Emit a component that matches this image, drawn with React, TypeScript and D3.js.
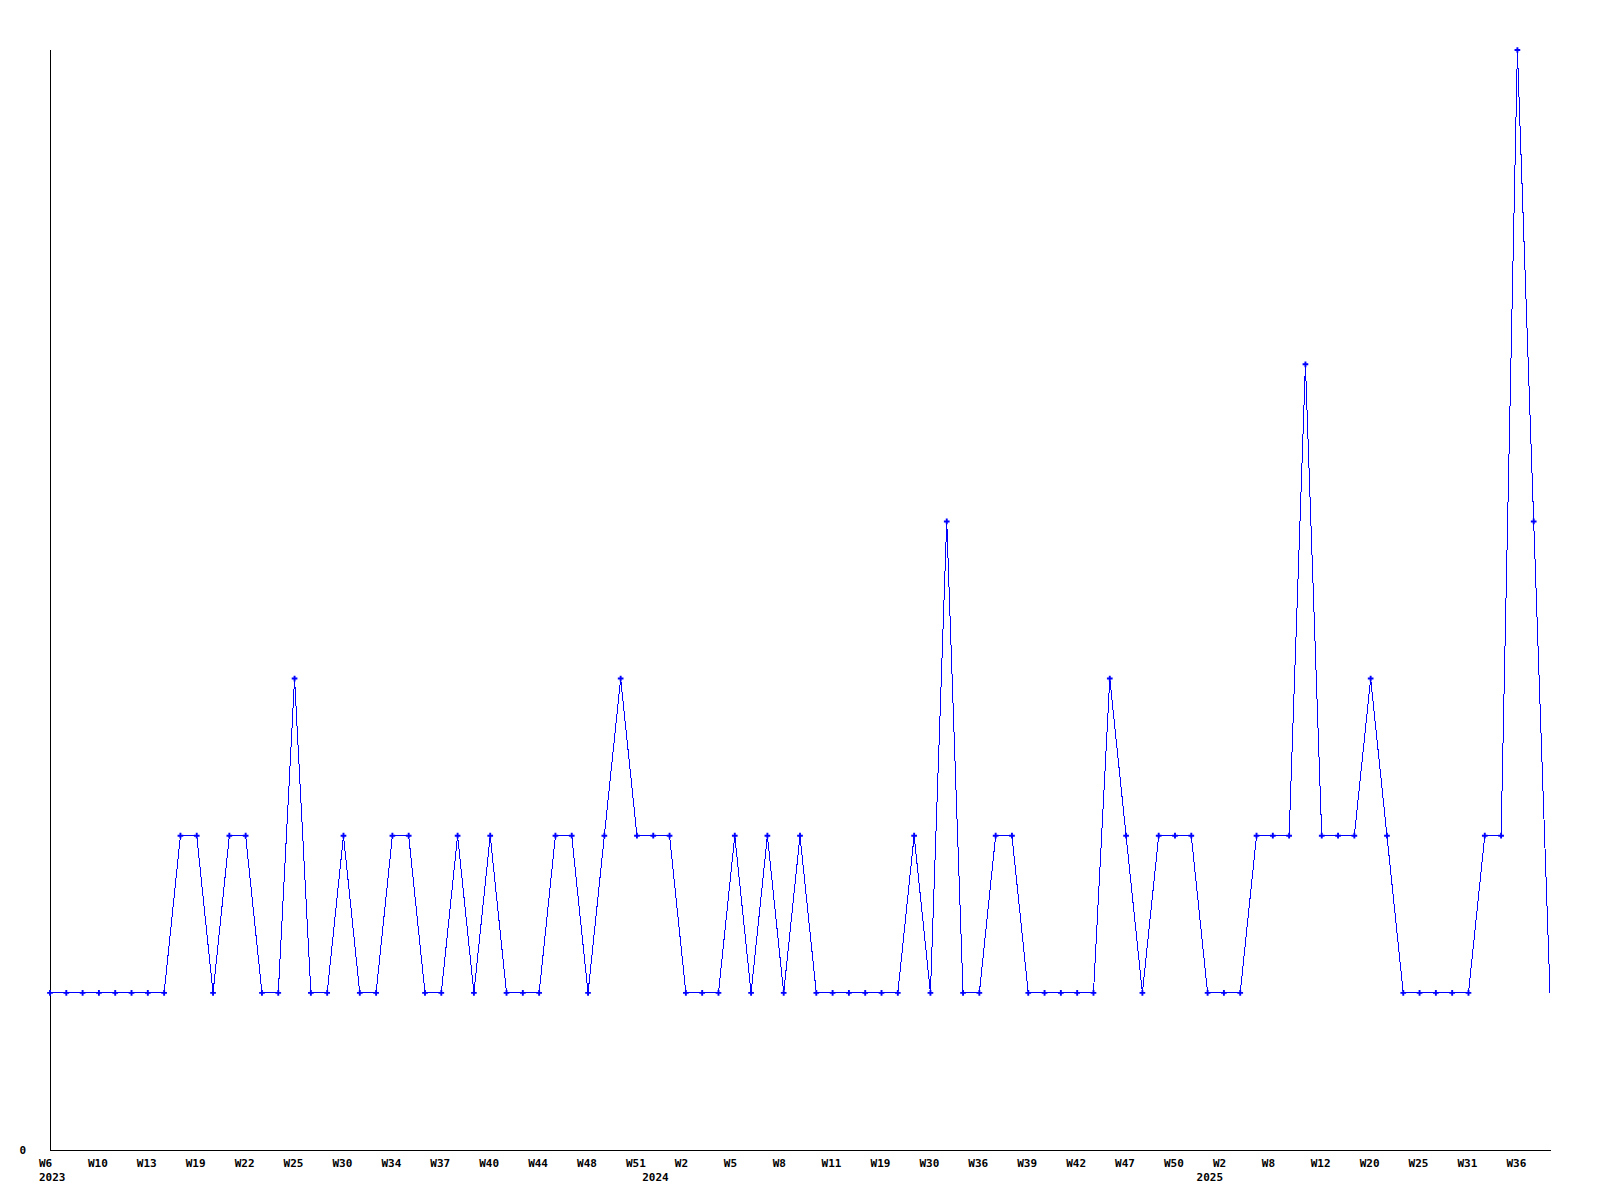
import { useEffect, useRef } from "react";
import * as d3 from "d3";

// weekly counts, one per category (oldest first)
const counts = [
  1, 1, 1, 1, 1, 1, 1, 1, 2, 2, 1, 2, 2, 1, 1, 3, 1, 1, 2, 1,
  1, 2, 2, 1, 1, 2, 1, 2, 1, 1, 1, 2, 2, 1, 2, 3, 2, 2, 2, 1,
  1, 1, 2, 1, 2, 1, 2, 1, 1, 1, 1, 1, 1, 2, 1, 4, 1, 1, 2, 2,
  1, 1, 1, 1, 1, 3, 2, 1, 2, 2, 2, 1, 1, 1, 2, 2, 2, 5, 2, 2,
  2, 3, 2, 1, 1, 1, 1, 1, 2, 2, 7, 4, 1,
];

// tick labels, shown on every 3rd category
const weekLabels = [
  "W6", "W10", "W13", "W19", "W22", "W25", "W30", "W34", "W37", "W40",
  "W44", "W48", "W51", "W2", "W5", "W8", "W11", "W19", "W30", "W36",
  "W39", "W42", "W47", "W50", "W2", "W8", "W12", "W20", "W25", "W31",
  "W36",
];
const tickStep = 3;

// year labels and the category where each one starts
const years = ["2023", "2024", "2025"];
const yearStart = [0, 37, 71];

const yMax = 7;

export default function App() {
  const ref = useRef<SVGSVGElement | null>(null);
  const width = 1600;
  const height = 1200;

  useEffect(() => {
    if (!ref.current) return;
    const svg = d3.select(ref.current);
    svg.selectAll("*").remove();

    const left = 50;
    const right = 1550;
    const top = 50;
    const bottom = 1150;

    const idx = counts.map((_, i) => i);
    const x = d3.scalePoint<number>().domain(idx).range([left, right]);
    const y = d3.scaleLinear().domain([0, yMax]).range([bottom, top]);

    // axes
    const axes = svg.append("g").attr("shape-rendering", "crispEdges").attr("stroke", "black");
    axes.append("line").attr("x1", left).attr("x2", left).attr("y1", 50).attr("y2", bottom);
    axes.append("line").attr("x1", left).attr("x2", right + 1).attr("y1", bottom).attr("y2", bottom);

    const font = "'DejaVu Sans Mono', monospace";

    svg.append("text")
      .attr("x", 26)
      .attr("y", bottom + 4)
      .attr("text-anchor", "end")
      .attr("font-family", font)
      .attr("font-weight", "bold")
      .attr("font-size", 11)
      .text(d3.format("d")(y.domain()[0]));

    // week tick labels
    svg.append("g")
      .attr("font-family", font)
      .attr("font-weight", "bold")
      .attr("font-size", 11)
      .selectAll("text")
      .data(weekLabels)
      .join("text")
      .attr("x", (_, i) => (x(i * tickStep) ?? 0) - 11)
      .attr("y", bottom + 17)
      .text((d) => d);

    // year labels
    svg.append("g")
      .attr("font-family", font)
      .attr("font-weight", "bold")
      .attr("font-size", 11)
      .selectAll("text")
      .data(years)
      .join("text")
      .attr("x", (_, i) => (x(yearStart[i]) ?? 0) - 11)
      .attr("y", bottom + 31)
      .text((d) => d);

    // series line
    const line = d3
      .line<number>()
      .x((_, i) => x(i) ?? 0)
      .y((d) => y(d));

    svg.append("path")
      .datum(counts)
      .attr("fill", "none")
      .attr("stroke", "#0000ff")
      .attr("stroke-width", 1)
      .attr("shape-rendering", "crispEdges")
      .attr("d", line);

    // markers (the last point has none in the original)
    const cross = d3.symbol().type(d3.symbolCross).size(18);
    svg.append("g")
      .attr("fill", "#0000ff")
      .selectAll("path")
      .data(counts.slice(0, -1))
      .join("path")
      .attr("transform", (d, i) => `translate(${x(i)},${y(d)})`)
      .attr("d", cross);
  }, []);

  return (
    <svg
      ref={ref}
      width={width}
      height={height}
      style={{ position: "absolute", left: 0, top: 0, background: "white" }}
    />
  );
}
